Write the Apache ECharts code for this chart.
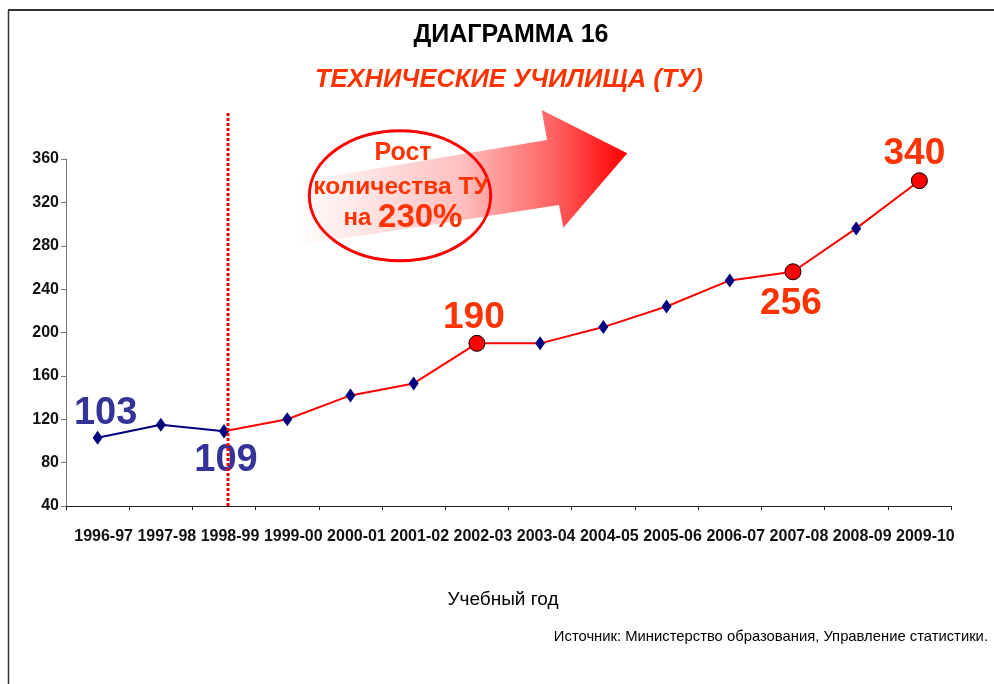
<!DOCTYPE html>
<html lang="ru">
<head>
    <meta charset="UTF-8">
    <title>Диаграмма 16</title>
    <script src="https://cdn.jsdelivr.net/npm/echarts@6/dist/echarts.min.js"></script>
    <style>
        html, body { margin: 0; padding: 0; background: #fff; }
        #chart { width: 994px; height: 684px; }
    </style>
</head>
<body>
<div id="chart"></div>
<script type="text/javascript">
    // учебные годы
    var years = ['1996-97', '1997-98', '1998-99', '1999-00', '2000-01', '2001-02', '2002-03',
        '2003-04', '2004-05', '2005-06', '2006-07', '2007-08', '2008-09', '2009-10'];
    // количество ТУ
    var counts = [103, 115, 109, 120, 142, 153, 190, 190, 205, 224, 248, 256, 296, 340];
    // отметки оси Y
    var yTicks = [40, 80, 120, 160, 200, 240, 280, 320, 360];
    // точки, выделенные кружком
    var circled = ['2002-03', '2007-08', '2009-10'];
    var splitYear = '1998-99';

    var arial = "'Liberation Sans', Arial, sans-serif";
    var navy = '#000080';
    var blueText = '#333399';
    var redText = '#ff3300';

    // подписи значений
    var labelPos = {
        '1996-97': { position: 'top', offset: [8, 8], color: blueText, size: 38 },
        '1998-99': { position: 'bottom', offset: [2, -3], color: blueText, size: 38 },
        '2002-03': { position: 'top', offset: [-3, 7], color: redText, size: 37 },
        '2007-08': { position: 'bottom', offset: [-2, -1], color: redText, size: 37 },
        '2009-10': { position: 'top', offset: [-5, 6], color: redText, size: 37 }
    };

    function makeLabel(year) {
        var p = labelPos[year];
        if (!p) return { show: false };
        return {
            show: true, position: p.position, offset: p.offset, distance: 6,
            color: p.color, fontSize: p.size, fontWeight: 'bold', fontFamily: arial
        };
    }

    var splitIdx = years.indexOf(splitYear);

    // синяя часть линии (до 1998-99)
    var blueData = counts.map(function (v, i) {
        if (i > splitIdx) return null;
        // подпись 109 рисуется красной серией
        return { value: v, label: i < splitIdx ? makeLabel(years[i]) : { show: false } };
    });

    // красная часть линии (с 1998-99)
    var redData = counts.map(function (v, i) {
        if (i < splitIdx) return null;
        var item = { value: v, label: makeLabel(years[i]) };
        if (circled.indexOf(years[i]) >= 0) {
            item.symbol = 'circle';
            item.symbolSize = 16;
            item.itemStyle = { color: '#ff0000', borderColor: '#000', borderWidth: 1 };
        }
        return item;
    });

    var chart = echarts.init(document.getElementById('chart'));
    chart.setOption({
        animation: false,
        backgroundColor: '#fff',
        grid: { left: 66, right: 43, top: 159, bottom: 178 },
        xAxis: {
            type: 'category',
            data: years,
            boundaryGap: true,
            axisLine: { lineStyle: { color: '#222', width: 1 } },
            axisTick: { show: true, length: 4, alignWithLabel: false, lineStyle: { color: '#222' } },
            axisLabel: {
                interval: 0, margin: 23, padding: [0, 0, 0, 12],
                fontFamily: arial, fontWeight: 'bold', fontSize: 16, color: '#111'
            },
            splitLine: { show: false }
        },
        yAxis: {
            type: 'value',
            min: yTicks[0],
            max: yTicks[yTicks.length - 1],
            interval: 40,
            axisLine: { show: true, lineStyle: { color: '#777', width: 1 } },
            axisTick: { show: true, length: 5, lineStyle: { color: '#777' } },
            axisLabel: {
                margin: 7, fontFamily: arial, fontWeight: 'bold', fontSize: 16, color: '#111'
            },
            splitLine: { show: false }
        },
        series: [
            {
                name: 'blue',
                type: 'line',
                data: blueData,
                symbol: 'diamond',
                symbolSize: [10, 14],
                itemStyle: { color: navy },
                lineStyle: { color: navy, width: 2 },
                z: 2
            },
            {
                name: 'red',
                type: 'line',
                data: redData,
                symbol: 'diamond',
                symbolSize: [10, 14],
                itemStyle: { color: navy },
                lineStyle: { color: '#ff0000', width: 2 },
                z: 3
            }
        ]
    });

    // пунктирная линия, рамка, стрелка и эллипс
    var lineX = chart.convertToPixel({ xAxisIndex: 0 }, splitYear) + 4;
    var axisBottom = chart.convertToPixel({ yAxisIndex: 0 }, yTicks[0]);

    chart.setOption({
        graphic: [
            { type: 'line', shape: { x1: 8, y1: 10, x2: 994, y2: 10 }, style: { stroke: '#333', lineWidth: 2 }, silent: true },
            { type: 'line', shape: { x1: 8.5, y1: 10, x2: 8.5, y2: 684 }, style: { stroke: '#333', lineWidth: 1.5 }, silent: true },
            {
                type: 'line', z: 10,
                shape: { x1: lineX, y1: 113, x2: lineX, y2: axisBottom },
                style: { stroke: '#ff0000', lineWidth: 3, lineDash: [3, 2] },
                silent: true
            },
            {
                type: 'polygon', z: 1,
                shape: {
                    points: [[295, 182], [547, 140], [541.7, 110], [627.3, 153.3],
                        [563.3, 227.7], [559, 205], [295, 246]]
                },
                style: {
                    fill: {
                        type: 'linear', x: 0, y: 0.5, x2: 1, y2: 0.5,
                        colorStops: [
                            { offset: 0, color: 'rgba(255,0,0,0)' },
                            { offset: 0.5, color: 'rgba(255,0,0,0.25)' },
                            { offset: 0.78, color: 'rgba(255,0,0,0.62)' },
                            { offset: 1, color: 'rgba(255,0,0,1)' }
                        ]
                    }
                },
                silent: true
            },
            {
                type: 'ellipse', z: 11,
                shape: { cx: 400, cy: 195.7, rx: 90.7, ry: 65 },
                style: { fill: null, stroke: '#ff0000', lineWidth: 3 },
                silent: true
            },
            {
                type: 'text', z: 12, x: 403, y: 153,
                style: { text: 'Рост', fill: redText, font: 'bold 25px ' + arial, textAlign: 'center', textVerticalAlign: 'middle' }
            },
            {
                type: 'text', z: 12, x: 401, y: 187,
                style: { text: 'количества ТУ', fill: redText, font: 'bold 24.5px ' + arial, textAlign: 'center', textVerticalAlign: 'middle' }
            },
            {
                type: 'text', z: 12, x: 403, y: 218,
                style: {
                    text: '{a|на }{b|230%}', textAlign: 'center', textVerticalAlign: 'middle',
                    rich: {
                        a: { fill: redText, fontFamily: arial, fontWeight: 'bold', fontSize: 24 },
                        b: { fill: redText, fontFamily: arial, fontWeight: 'bold', fontSize: 33 }
                    }
                }
            },
            {
                type: 'text', x: 511, y: 35,
                style: { text: 'ДИАГРАММА 16', fill: '#000', font: 'bold 25px ' + arial, textAlign: 'center', textVerticalAlign: 'middle' }
            },
            {
                type: 'text', x: 509, y: 80,
                style: { text: 'ТЕХНИЧЕСКИЕ УЧИЛИЩА (ТУ)', fill: redText, font: 'italic bold 25.5px ' + arial, textAlign: 'center', textVerticalAlign: 'middle' }
            },
            {
                type: 'text', x: 503, y: 600,
                style: { text: 'Учебный год', fill: '#000', font: '19px ' + arial, textAlign: 'center', textVerticalAlign: 'middle' }
            },
            {
                type: 'text', x: 988, y: 637,
                style: { text: 'Источник: Министерство образования, Управление статистики.', fill: '#000', font: '14.8px ' + arial, textAlign: 'right', textVerticalAlign: 'middle' }
            }
        ]
    });
</script>
</body>
</html>
